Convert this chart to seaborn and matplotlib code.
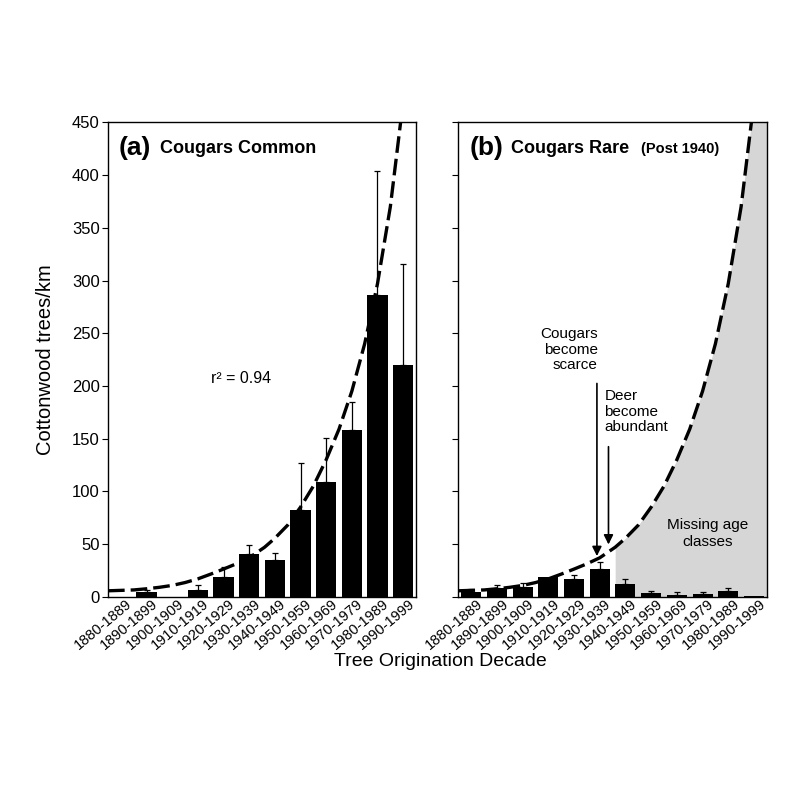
import numpy as np
import matplotlib
matplotlib.use("Agg")
import matplotlib.pyplot as plt
import matplotlib.transforms as mtransforms
import seaborn as sns

# Tree origination decades (x categories)
decades = ["1880-1889", "1890-1899", "1900-1909", "1910-1919", "1920-1929",
           "1930-1939", "1940-1949", "1950-1959", "1960-1969", "1970-1979",
           "1980-1989", "1990-1999"]

# (a) Cougars common: mean density and upper error bar
common_vals = [0, 4.5, 0, 6, 19, 41, 34.5, 82, 108.5, 158, 286.5, 220]
common_err = [0, 1.5, 0, 5, 9, 8.5, 7.5, 45, 42.5, 27, 117.5, 96]

# (b) Cougars rare (post 1940)
rare_vals = [4.7, 8.5, 9.5, 18.4, 16.8, 26.6, 11.8, 3.2, 1.9, 2.3, 5.1, 1.0]
rare_err = [2.3, 2.3, 3.8, 0, 3.5, 6, 4.7, 2.5, 2.3, 1.9, 3.2, 0]

# exponential fit curve (year, trees/km)
curve_years = [1880, 1885, 1890, 1895, 1900, 1905, 1910, 1915, 1920, 1925,
               1930, 1935, 1941, 1945, 1950, 1955, 1960, 1965, 1970, 1975,
               1980, 1985, 1990, 1995]
curve_vals = [5.7, 6.1, 6.5, 7.6, 9.0, 10.8, 13.5, 17, 21.5, 26.3,
              31.3, 37, 47, 55.5, 68, 85, 105, 130, 159, 195,
              240, 297, 370, 470]

shade_start_year = 1941
yticks = [0, 50, 100, 150, 200, 250, 300, 350, 400, 450]

sns.set_theme(style="ticks")
plt.rcParams["font.family"] = ["Liberation Sans", "DejaVu Sans"]
plt.rcParams["text.color"] = "black"
plt.rcParams["axes.labelcolor"] = "black"
plt.rcParams["xtick.color"] = "black"
plt.rcParams["ytick.color"] = "black"

fig = plt.figure(figsize=(8, 8), dpi=100)
ax_a = fig.add_axes([0.135, 0.254, 0.385, 0.593])
ax_b = fig.add_axes([0.573, 0.254, 0.3855, 0.593])

curve_x = (np.array(curve_years) - 1885) / 10.0
curve_y = np.array(curve_vals)
dash = (0, (5, 1.8))
shift = mtransforms.ScaledTranslation(5 / 100, 0, fig.dpi_scale_trans)

for ax, vals, err in [(ax_a, common_vals, common_err), (ax_b, rare_vals, rare_err)]:
    sns.barplot(x=decades, y=vals, color="black", saturation=1, width=0.78,
                errorbar=None, ax=ax, zorder=3)
    for p in ax.patches:
        p.set_edgecolor("none")
    pos = np.arange(len(decades))
    e = np.array(err)
    show = e > 0
    ax.errorbar(pos[show], np.array(vals)[show],
                yerr=[np.zeros(show.sum()), e[show]],
                fmt="none", ecolor="black", elinewidth=0.9, capsize=2.5,
                capthick=0.9, zorder=2)
    ax.plot(curve_x, curve_y, color="black", lw=2.4, linestyle=dash, zorder=4)
    ax.set_xlim(-0.5, len(decades) - 0.5)
    ax.set_ylim(0, 450)
    ax.set_yticks(yticks)
    ax.set_xlabel("")
    ax.set_ylabel("")
    ax.tick_params(axis="x", length=0, pad=0, labelsize=10.5)
    ax.tick_params(axis="y", direction="out", length=4, width=0.8, pad=2,
                   labelsize=12)
    for lab in ax.get_xticklabels():
        lab.set_rotation(40)
        lab.set_ha("right")
        lab.set_va("top")
        lab.set_rotation_mode("anchor")
        lab.set_transform(lab.get_transform() + shift)
    for s in ax.spines.values():
        s.set_visible(True)
        s.set_linewidth(1.0)
        s.set_color("black")
    ax.set_facecolor("white")

ax_b.set_yticklabels([])

# grey area for missing age classes in (b)
m = curve_x >= (shade_start_year - 1885) / 10.0
ax_b.fill_between(curve_x[m], 0, curve_y[m], color="#d6d6d6", lw=0, zorder=1)
ax_b.axvspan(curve_x[-1], len(decades) - 0.5, color="#d6d6d6", lw=0, zorder=1)

ax_a.set_ylabel("Cottonwood trees/km", fontsize=14.5, labelpad=12)
fig.text(0.55, 1 - 662 / 800, "Tree Origination Decade", ha="center",
         va="center", fontsize=14)

# panel titles
ax_a.text(0.035, 0.946, "(a)", transform=ax_a.transAxes, fontsize=19,
          fontweight="bold", va="center")
ax_a.text(0.168, 0.946, "Cougars Common", transform=ax_a.transAxes,
          fontsize=13, fontweight="bold", va="center")
ax_b.text(0.035, 0.946, "(b)", transform=ax_b.transAxes, fontsize=19,
          fontweight="bold", va="center")
ax_b.text(0.172, 0.946, "Cougars Rare", transform=ax_b.transAxes,
          fontsize=13, fontweight="bold", va="center")
ax_b.text(0.593, 0.944, "(Post 1940)", transform=ax_b.transAxes,
          fontsize=10.5, fontweight="bold", va="center")

ax_a.text(4.68, 207, "r² = 0.94", ha="center", va="center", fontsize=11.5)

# annotations in (b)
ax_b.text(4.92, 256, "Cougars\nbecome\nscarce", ha="right", va="top",
          fontsize=11, linespacing=1.15)
ax_b.annotate("", xy=(4.89, 36), xytext=(4.89, 205),
              arrowprops=dict(arrowstyle="-|>", color="black", lw=1.2,
                              mutation_scale=14))
ax_b.text(5.18, 197, "Deer\nbecome\nabundant", ha="left", va="top",
          fontsize=11, linespacing=1.15)
ax_b.annotate("", xy=(5.34, 47), xytext=(5.34, 145),
              arrowprops=dict(arrowstyle="-|>", color="black", lw=1.2,
                              mutation_scale=14))
ax_b.text(9.2, 60, "Missing age\nclasses", ha="center", va="center",
          fontsize=11, linespacing=1.2)

fig.savefig("out.png", dpi=100, facecolor="white")
